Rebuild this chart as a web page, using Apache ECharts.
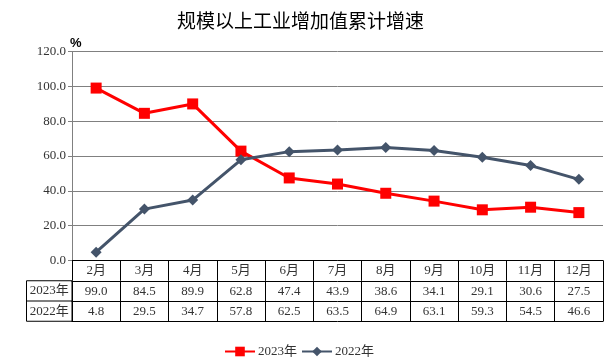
<!DOCTYPE html>
<html><head><meta charset="utf-8">
<script src="https://cdn.jsdelivr.net/npm/echarts@6/dist/echarts.min.js"></script>
<style>html,body{margin:0;padding:0;background:#fff}#c{width:610px;height:364px}</style>
</head><body><div id="c"></div>
<script>
const months = ['2月','3月','4月','5月','6月','7月','8月','9月','10月','11月','12月'];
const s2023 = [99.0,84.5,89.9,62.8,47.4,43.9,38.6,34.1,29.1,30.6,27.5];
const s2022 = [4.8,29.5,34.7,57.8,62.5,63.5,64.9,63.1,59.3,54.5,46.6];
const seriesNames = ['2023年','2022年'];
const yUnit = '%';
const yMin = 0, yMax = 120, yStep = 20;

const FONT = "'Liberation Serif','Noto Sans CJK SC',serif";
const W = 610, H = 364;
const gL = 72, gR = 7, gT = 51.5, gB = 103.5;
const axisY = H - gB;      // 260.5
const rowH = 20.25;
const txtColor = '#333';

function tableAxis(idx, data, showLabel) {
  return {
    type: 'category', position: 'bottom', offset: idx * rowH,
    data: data, boundaryGap: true,
    axisLine: {show: true, lineStyle: {color: '#000', width: 1}},
    axisTick: {show: showLabel, length: rowH, inside: false, lineStyle: {color: '#000', width: 1}},
    axisLabel: {show: showLabel, margin: 4, fontSize: 13, fontFamily: FONT, color: txtColor, interval: 0},
    splitLine: {show: false}
  };
}

const chart = echarts.init(document.getElementById('c'), null, {renderer: 'canvas'});
chart.setOption({
  animation: false,
  backgroundColor: '#fff',
  title: {
    text: '规模以上工业增加值累计增速', left: 172, top: 6,
    textStyle: {fontFamily: "'Noto Sans CJK SC'", fontSize: 19, fontWeight: 'normal', color: '#000'}
  },
  grid: {left: gL, right: gR, top: gT, bottom: gB},
  legend: {
    data: seriesNames, left: 219, top: 340, itemWidth: 30, itemHeight: 12, itemGap: 4,
    textStyle: {fontFamily: FONT, fontSize: 13, color: txtColor, padding: [0,0,0,-2]}
  },
  xAxis: [
    tableAxis(0, months, true),
    tableAxis(1, s2023.map(v => v.toFixed(1)), true),
    tableAxis(2, s2022.map(v => v.toFixed(1)), true),
    tableAxis(3, months.map(() => ''), false)
  ],
  yAxis: {
    type: 'value', min: yMin, max: yMax, interval: yStep,
    axisLine: {show: true, lineStyle: {color: '#808080', width: 1}},
    axisTick: {show: true, length: 4, lineStyle: {color: '#808080'}},
    axisLabel: {formatter: v => v.toFixed(1), margin: 6, fontSize: 13, fontFamily: FONT, color: txtColor},
    splitLine: {show: true, lineStyle: {color: '#808080', width: 1}}
  },
  series: [
    {name: seriesNames[0], type: 'line', data: s2023, xAxisIndex: 0,
     symbol: 'rect', symbolSize: 11, showSymbol: true,
     itemStyle: {color: '#FF0000'}, lineStyle: {color: '#FF0000', width: 3}},
    {name: seriesNames[1], type: 'line', data: s2022, xAxisIndex: 0,
     symbol: 'diamond', symbolSize: 11, showSymbol: true,
     itemStyle: {color: '#44546A'}, lineStyle: {color: '#44546A', width: 3}}
  ],
  graphic: [
    {type: 'text', x: gL - 2, y: gT - 2,
     style: {text: yUnit, font: "bold 13px 'Liberation Sans',sans-serif", fill: '#000', align: 'left', verticalAlign: 'bottom'}},
    {type: 'rect', shape: {x: 26.5, y: axisY + rowH, width: gL - 26.5, height: rowH * 2},
     style: {fill: 'none', stroke: '#000', lineWidth: 1}, silent: true},
    {type: 'line', shape: {x1: 26.5, y1: axisY + rowH * 2, x2: gL, y2: axisY + rowH * 2},
     style: {stroke: '#000', lineWidth: 1}, silent: true},
    {type: 'text', x: (26.5 + gL) / 2, y: axisY + rowH * 1.5,
     style: {text: seriesNames[0], font: "13px " + FONT, fill: txtColor, align: 'center', verticalAlign: 'middle'}},
    {type: 'text', x: (26.5 + gL) / 2, y: axisY + rowH * 2.5,
     style: {text: seriesNames[1], font: "13px " + FONT, fill: txtColor, align: 'center', verticalAlign: 'middle'}}
  ]
});
</script></body></html>
